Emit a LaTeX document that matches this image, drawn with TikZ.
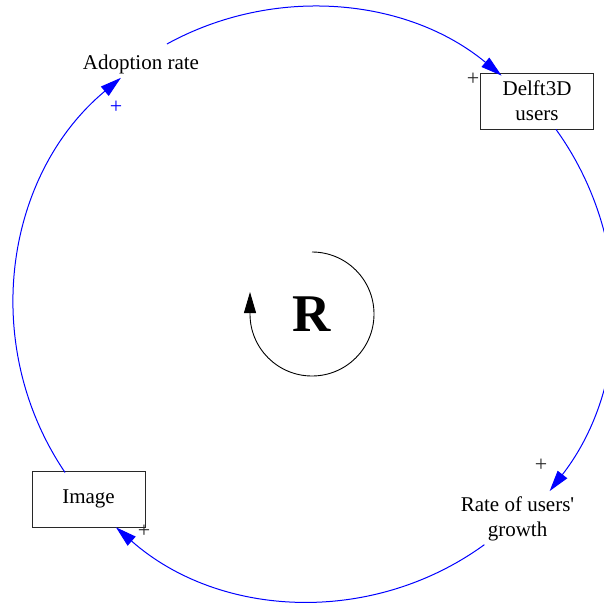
\documentclass[tikz,border=0pt]{standalone}
\usepackage{tikz}
\usetikzlibrary{arrows.meta, calc}
\usepackage{fontspec}
\setmainfont{Liberation Serif}
\definecolor{loopblue}{RGB}{0,0,255}
\definecolor{signgray}{RGB}{40,40,40}

\begin{document}
\begin{tikzpicture}[x=1pt, y=1pt,
    lbl/.style={font=\fontsize{21}{25}\selectfont, align=center, inner sep=0pt},
    varbox/.style={draw=signgray, line width=0.9pt, minimum width=113, minimum height=56, font=\fontsize{21}{25}\selectfont, align=center},
    link/.style={loopblue, line width=1pt, -{Triangle[length=21pt, width=12pt]}},
    sign/.style={font=\fontsize{22}{25}\selectfont, inner sep=0pt}]
            \useasboundingbox (0,0) rectangle (604,603);
            \clip (0,0) rectangle (604,603);
            % variables of the loop
            \node[lbl] (adopt) at (141,539) {Adoption rate};
            \node[varbox] (users) at (537,502) {Delft3D\\users};
            \node[lbl] (rate) at (517.5,84) {Rate of users\textquotesingle\\growth};
            \node[varbox] (image) at (88.5,104) {Image};
            % the big loop, arcs round one centre
            \coordinate (c) at (311,297);
            \path (c) ++(118.8:299) coordinate (adopt-out);
            \path (c) ++(35.8:302) coordinate (users-out);
            \path (c) ++(-54:295) coordinate (rate-out);
            \path (c) ++(214.1:297) coordinate (image-out);
            \draw[link] (adopt-out) arc[start angle=118.8, end angle=50.4, radius=299];
            \draw[link] (users-out) arc[start angle=35.8, end angle=-37.8, radius=302];
            \draw[link] (rate-out) arc[start angle=-54, end angle=-131.4, radius=295];
            \draw[link] (image-out) arc[start angle=214.1, end angle=129.8, radius=297];
            % polarity of each link
            \node[sign, text=loopblue] (p1) at (116,496) {+};
            \node[sign, text=signgray] (p2) at (473,524) {+};
            \node[sign, text=signgray] (p3) at (541,138) {+};
            \node[sign, text=signgray] (p4) at (144,72) {+};
            % reinforcing loop marker
            \node[inner sep=0pt, font=\fontsize{53}{60}\selectfont\bfseries] (loop) at (312,289) {R};
            \draw[line width=0.9pt, -{Triangle[length=21pt, width=12pt]}] (loop) ++(0,62) arc[start angle=90, end angle=-180, radius=62] -- ++(0,22);
        \end{tikzpicture}
\end{document}
